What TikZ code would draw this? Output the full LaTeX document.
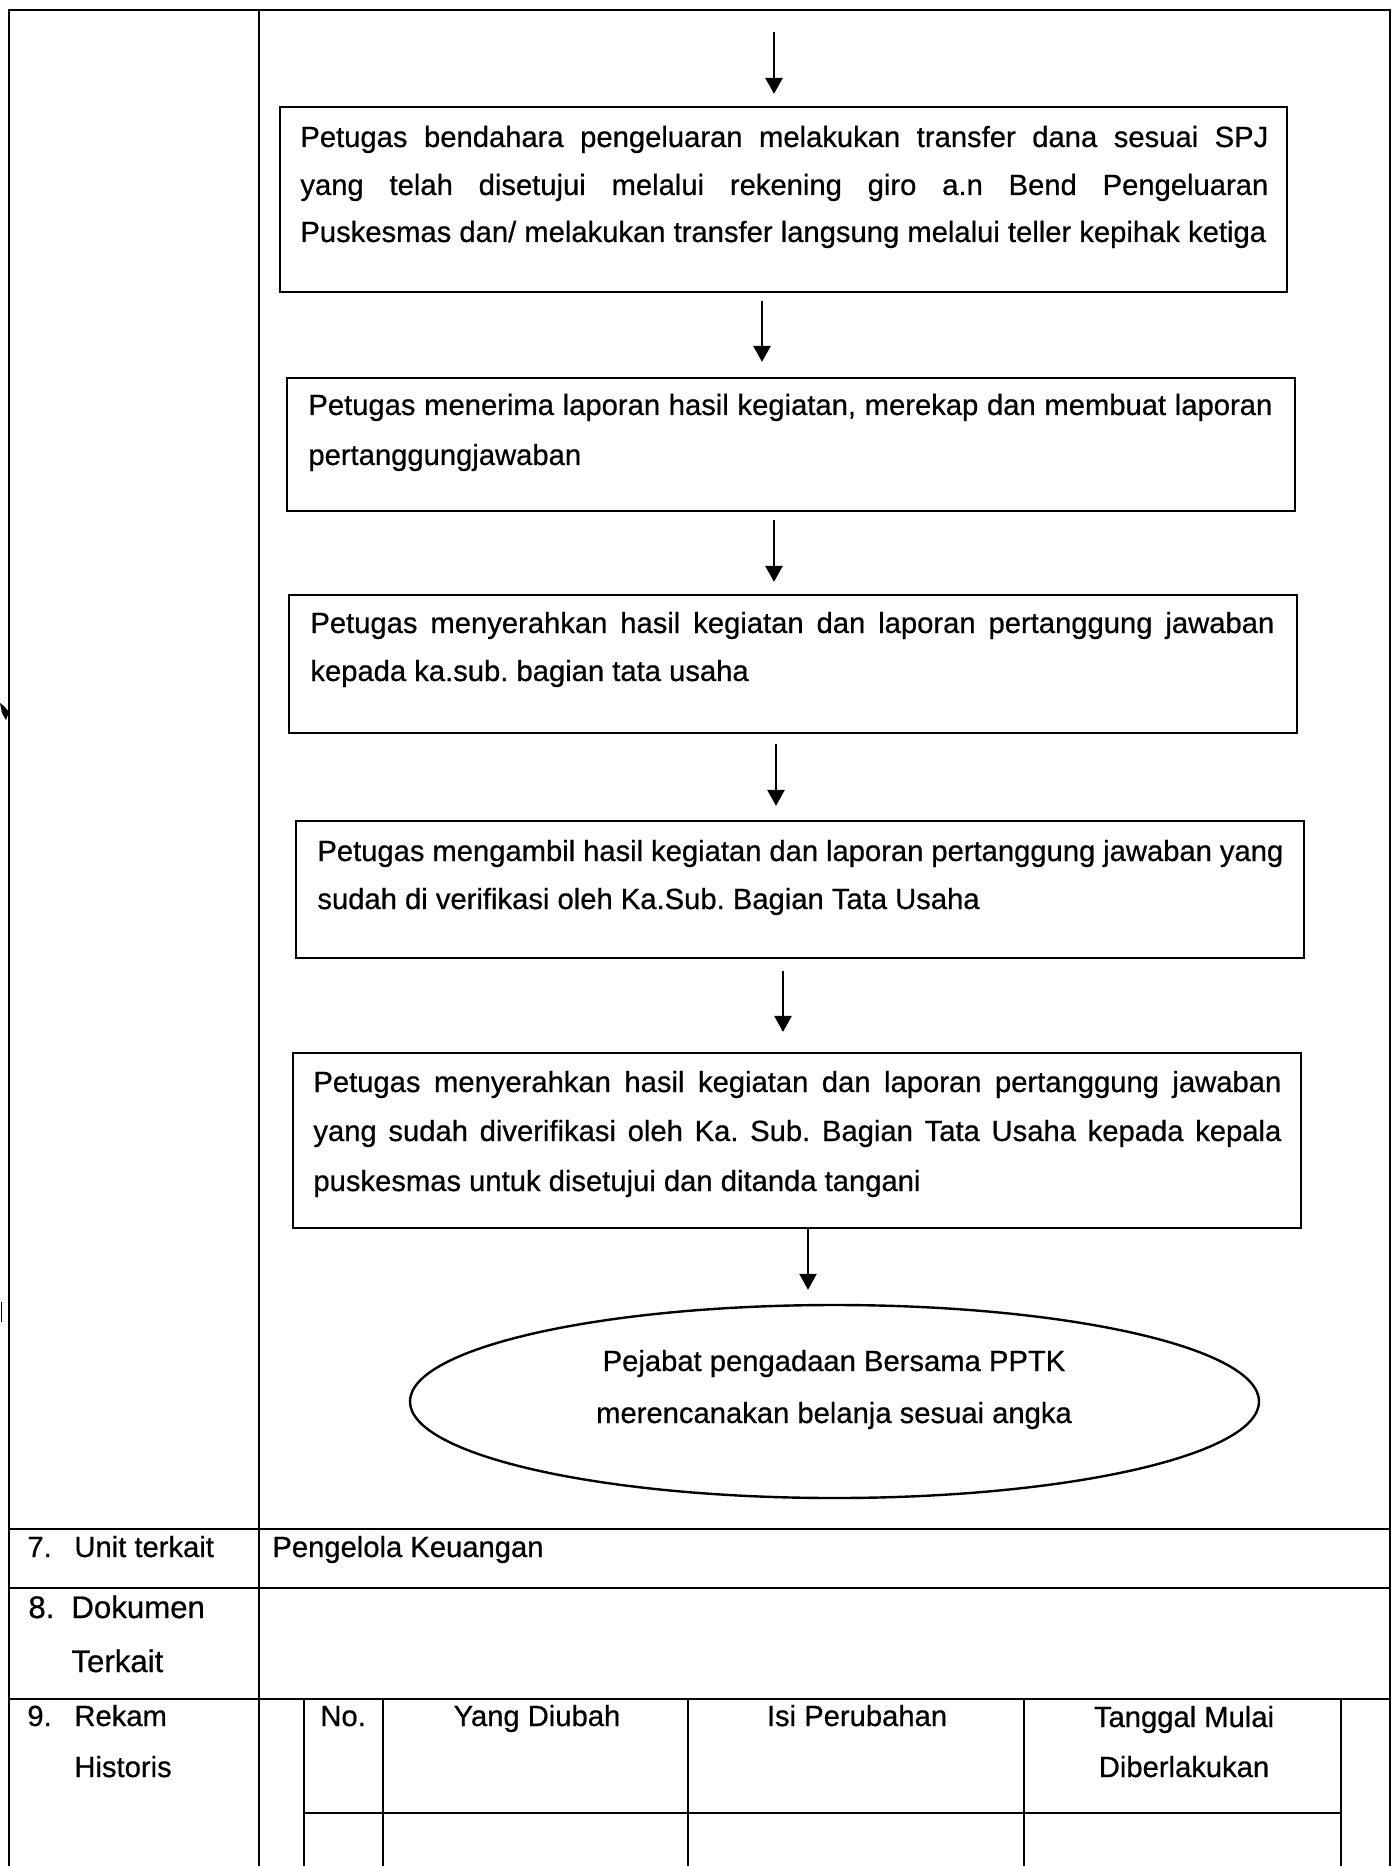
\documentclass[tikz,border=0pt]{standalone}
\usepackage{fontspec}
\setmainfont{Liberation Sans}[RawFeature={embolden=0.6}]
\usetikzlibrary{arrows.meta,shapes.geometric,fit,calc}
\newcommand{\fsmain}{\fontsize{14.6pt}{25pt}\selectfont}
\newcommand{\fsbig}{\fontsize{15.6pt}{25pt}\selectfont}
\frenchspacing
\begin{document}
\begin{tikzpicture}[x=0.5pt,y=-0.5pt,
  txt/.style={anchor=base west, inner sep=0pt, font=\fsmain},
  ctxt/.style={anchor=base, inner sep=0pt, font=\fsmain},
  bigtxt/.style={anchor=base west, inner sep=0pt, font=\fsbig},
  flowbox/.style={draw, line width=1.1pt, inner sep=0pt},
  oval/.style={draw, ellipse, line width=1.2pt, inner sep=0pt},
  grid/.style={line width=0.8pt},
  arr/.style={line width=1.3pt, -{Triangle[length=8pt,width=8.5pt]}},
]
\useasboundingbox (0,0) rectangle (1395,1866);
\fill[white] (0,0) rectangle (1395,1866);

% ---------- outer table ----------
\draw[grid] (9,1866) -- (9,10) -- (1390,10) -- (1390,1866);
\draw[grid] (259,10) -- (259,1866);
\draw[grid] (9,1529) -- (1390,1529);
\draw[grid] (9,1588) -- (1390,1588);
\draw[grid] (9,1699) -- (1390,1699);
% inner table (row 9)
\foreach \xx in {304,383,688,1024,1341} \draw[grid] (\xx,1699) -- (\xx,1866);
\draw[grid] (304,1813) -- (1341,1813);

% scan marks at left edge
\fill (0,703) -- (4,706) -- (9,712) -- (6,720) -- (2,713) -- cycle;
\draw[line width=0.8pt] (1.5,1302) -- (1.5,1322);

% ---------- flow boxes ----------
\node[flowbox, fit={(280,107) (1287,292)}] (b1) {};
\node[txt] (b1l1) at (300,147) {\makebox[484pt][s]{Petugas bendahara pengeluaran melakukan transfer dana sesuai SPJ}};
\node[txt] (b1l2) at (300,195) {\makebox[484pt][s]{yang telah disetujui melalui rekening giro a.n Bend Pengeluaran}};
\node[txt] (b1l3) at (300,242) {Puskesmas dan/ melakukan transfer langsung melalui teller kepihak ketiga};

\node[flowbox, fit={(287,378) (1295,511)}] (b2) {};
\node[txt] (b2l1) at (308,415) {\makebox[482pt][s]{Petugas menerima laporan hasil kegiatan, merekap dan membuat laporan}};
\node[txt] (b2l2) at (308,465) {pertanggungjawaban};

\node[flowbox, fit={(289,595) (1297,733)}] (b3) {};
\node[txt] (b3l1) at (310,633) {\makebox[482pt][s]{Petugas menyerahkan hasil kegiatan dan laporan pertanggung jawaban}};
\node[txt] (b3l2) at (310,681) {kepada ka.sub. bagian tata usaha};

\node[flowbox, fit={(296,821) (1304,958)}] (b4) {};
\node[txt] (b4l1) at (317,861) {\makebox[483pt][s]{Petugas mengambil hasil kegiatan dan laporan pertanggung jawaban yang}};
\node[txt] (b4l2) at (317,909) {sudah di verifikasi oleh Ka.Sub. Bagian Tata Usaha};

\node[flowbox, fit={(293,1053) (1301,1228)}] (b5) {};
\node[txt] (b5l1) at (313,1092) {\makebox[484pt][s]{Petugas menyerahkan hasil kegiatan dan laporan pertanggung jawaban}};
\node[txt] (b5l2) at (313,1141) {\makebox[484pt][s]{yang sudah diverifikasi oleh Ka. Sub. Bagian Tata Usaha kepada kepala}};
\node[txt] (b5l3) at (313,1191) {puskesmas untuk disetujui dan ditanda tangani};

\node[oval, minimum width=424.5pt, minimum height=96.5pt] (e) at (834.5,1401.5) {};
\node[ctxt] (el1) at (834,1371) {Pejabat pengadaan Bersama PPTK};
\node[ctxt] (el2) at (834,1423) {merencanakan belanja sesuai angka};

% ---------- arrows ----------
\coordinate (a1s) at (774,32);
\coordinate (x2) at (762,0);
\coordinate (x3) at (774,0);
\coordinate (x4) at (776,0);
\coordinate (x5) at (783,0);
\coordinate (x6) at (808,0);
\draw[arr, shorten >=6pt] (a1s) -- (a1s |- b1.north);
\draw[arr, shorten <=4pt, shorten >=7.5pt] (b1.south -| x2) -- (b2.north -| x2);
\draw[arr, shorten <=4pt, shorten >=6pt] (b2.south -| x3) -- (b3.north -| x3);
\draw[arr, shorten <=5pt, shorten >=7pt] (b3.south -| x4) -- (b4.north -| x4);
\draw[arr, shorten <=6pt, shorten >=10pt] (b4.south -| x5) -- (b5.north -| x5);
\draw[arr, shorten <=0pt, shorten >=7pt] (b5.south -| x6) -- (e.north -| x6);

% ---------- table texts ----------
\node[txt] (n7) at (27,1557) {7.};
\node[txt] (u7) at (74,1557) {Unit terkait};
\node[txt] (pk) at (272,1557) {Pengelola Keuangan};
\node[bigtxt] (n8) at (28,1618) {8.};
\node[bigtxt] (d8) at (71,1618) {Dokumen};
\node[bigtxt] (t8) at (71,1672) {Terkait};
\node[txt] (n9) at (27,1726) {9.};
\node[txt] (r9) at (74,1726) {Rekam};
\node[txt] (h9) at (74,1777) {Historis};
\node[txt] (hno) at (320,1726) {No.};
\node[ctxt] (hyd) at (537,1726) {Yang Diubah};
\node[ctxt] (hip) at (857,1726) {Isi Perubahan};
\node[ctxt] (htm) at (1184,1727) {Tanggal Mulai};
\node[ctxt] (hdb) at (1184,1777) {Diberlakukan};
\end{tikzpicture}
\end{document}
